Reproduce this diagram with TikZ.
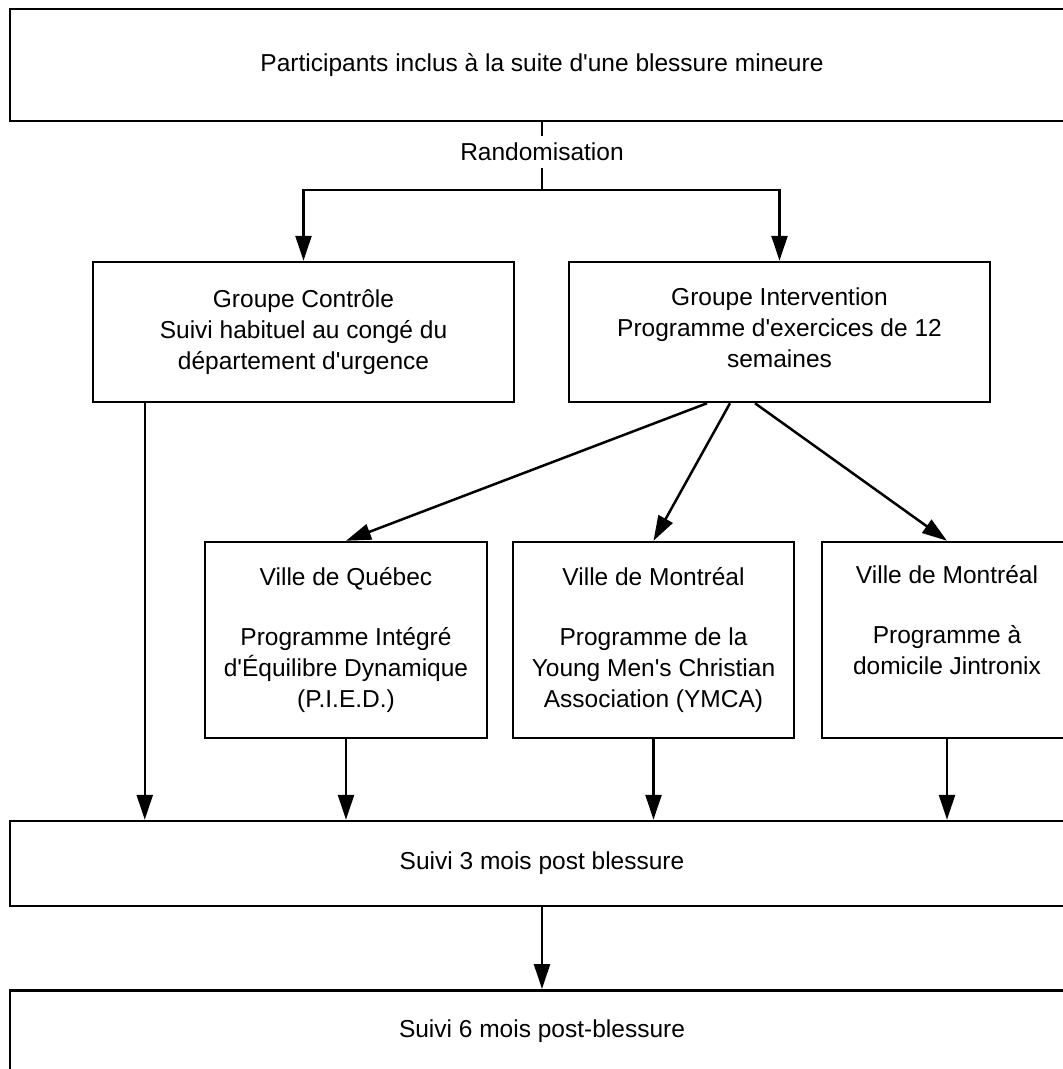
\documentclass[tikz,border=0pt]{standalone}
\usepackage{fontspec}
\setmainfont{Liberation Sans}
\usetikzlibrary{arrows.meta,calc}
\newcommand{\apos}{\textquotesingle}
\begin{document}
\begin{tikzpicture}[x=1pt,y=-1pt,
  box/.style={draw, line width=2.5pt, rectangle, align=center, inner sep=0pt, font=\fontsize{24.5}{31}\selectfont},
  arr/.style={line width=2.5pt, -{Triangle[length=25pt,width=16pt]}},
  ln/.style={line width=2.5pt},
  lbl/.style={fill=white, inner xsep=2pt, inner ysep=7pt, font=\fontsize{24.5}{31}\selectfont}]
\clip (0,0) rectangle (1063,1069);
\node[box, minimum width=1064pt, minimum height=112pt] (top) at (542,65) {Participants inclus à la suite d\apos une blessure mineure};
\node[box, minimum width=421pt, minimum height=140pt] (ctrl) at (303.5,332) {Groupe Contrôle\\Suivi habituel au congé du\\département d\apos urgence};
\node[box, minimum width=421pt, minimum height=140pt] (interv) at (779.5,332) {Groupe Intervention\\Programme d\apos exercices de 12\\semaines\strut};
\node[box, minimum width=282pt, minimum height=196pt] (quebec) at (346,640) {Ville de Québec\\[29pt]Programme Intégré\\d\apos Équilibre Dynamique\\(P.I.E.D.)};
\node[box, minimum width=281pt, minimum height=196pt] (mtl) at (653.5,640) {Ville de Montréal\\[29pt]Programme de la\\Young Men\apos s Christian\\Association (YMCA)};
\node[box, minimum width=250pt, minimum height=196pt] (jin) at (947,640) {Ville de Montréal\\[29pt]Programme à\\domicile Jintronix\\\strut};
\node[box, minimum width=1064pt, minimum height=85pt] (s3) at (542,863.5) {Suivi 3 mois post blessure};
\node[box, minimum width=1064pt, anchor=north, text height=47pt, text depth=100pt] (s6) at (542,989) {Suivi 6 mois post-blessure};
\coordinate (split) at (542,190);
\draw[ln] (top.south) -- (split);
\node[lbl] (rand) at (542,152) {Randomisation};
\draw[arr] (split) -| (ctrl.north);
\draw[arr] (split) -| (interv.north);
\draw[arr] ([xshift=-72.5pt]interv.south) -- (quebec.north);
\draw[arr] ([xshift=-49.5pt]interv.south) -- (mtl.north);
\draw[arr] ([xshift=-24.5pt]interv.south) -- (jin.north);
\draw[arr] ([xshift=53pt]ctrl.south west) -- ([xshift=53pt]ctrl.south west |- s3.north);
\draw[arr] (quebec.south) -- (quebec.south |- s3.north);
\draw[arr] (mtl.south) -- (mtl.south |- s3.north);
\draw[arr] (jin.south) -- (jin.south |- s3.north);
\draw[arr] (s3.south) -- (s6.north);
\end{tikzpicture}
\end{document}
